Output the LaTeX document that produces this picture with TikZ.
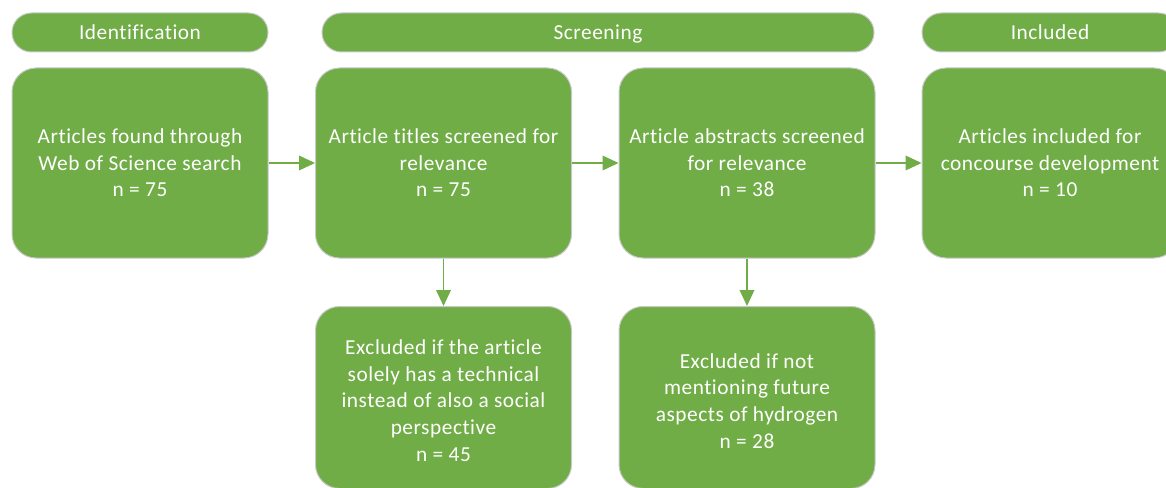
\documentclass[tikz,border=0pt]{standalone}
\usepackage{fontspec}
\setmainfont{Carlito}[LetterSpace=2.5, Ligatures={NoCommon}]
\usetikzlibrary{arrows.meta}
\definecolor{boxgreen}{HTML}{70AD47}
\definecolor{edgegray}{HTML}{C8C8C8}
\tikzset{
  stagebox/.style={draw=edgegray, line width=0.75pt, fill=boxgreen, rounded corners=18pt,
    minimum width=192pt, minimum height=142.5pt, inner sep=0pt, align=center,
    text=white, font=\fontsize{16}{20}\selectfont},
  exclbox/.style={stagebox, minimum height=136.5pt},
  boxtext/.style={inner sep=0pt, align=center, text=white, font=\fontsize{16}{20}\selectfont},
  pill/.style={draw=edgegray, line width=0.75pt, fill=boxgreen, rounded corners=14.6pt,
    minimum height=29.25pt, inner sep=0pt, text height=13pt, text depth=1.8pt,
    text=white, font=\fontsize{16}{20}\selectfont},
  flowarrow/.style={draw=boxgreen, line width=1.1pt, -{Triangle[length=12pt,width=11pt]}}
}
\begin{document}
\begin{tikzpicture}[x=0.75pt,y=-0.75pt]
\clip (0,0) rectangle (1166,488);
\fill[white] (0,0) rectangle (1166,488);
% header pills
\node[pill, minimum width=192pt] (hid) at (140,32.5) {Identification};
\node[pill, minimum width=414pt] (hscr) at (598,32.5) {Screening};
\node[pill, minimum width=192pt] (hinc) at (1050,32.5) {Included};
% main boxes
\node[stagebox] (b1) at (140,163) {Articles found through\\Web of Science search\\n = 75};
\node[stagebox] (b2) at (443.5,163) {Article titles screened for\\relevance\\n = 75};
\node[stagebox] (b3) at (747,163) {Article abstracts screened\\for relevance\\n = 38};
\node[stagebox] (b4) at (1050,163) {Articles included for\\concourse development\\n = 10};
% exclusion boxes
\node[exclbox] (e1) at (443.5,397.5) {};
\node[boxtext] (e1t) at (443.5,400.5) {Excluded if the article\\solely has a technical\\instead of also a social\\perspective\\n = 45};
\node[exclbox] (e2) at (747,397.5) {};
\node[boxtext] (e2t) at (747,401) {Excluded if not\\mentioning future\\aspects of hydrogen\\n = 28};
% connectors
\draw[flowarrow] (b1) -- (b2);
\draw[flowarrow] (b2) -- (b3);
\draw[flowarrow] (b3) -- (b4);
\draw[flowarrow] (b2) -- (e1);
\draw[flowarrow] (b3) -- (e2);
\end{tikzpicture}
\end{document}
